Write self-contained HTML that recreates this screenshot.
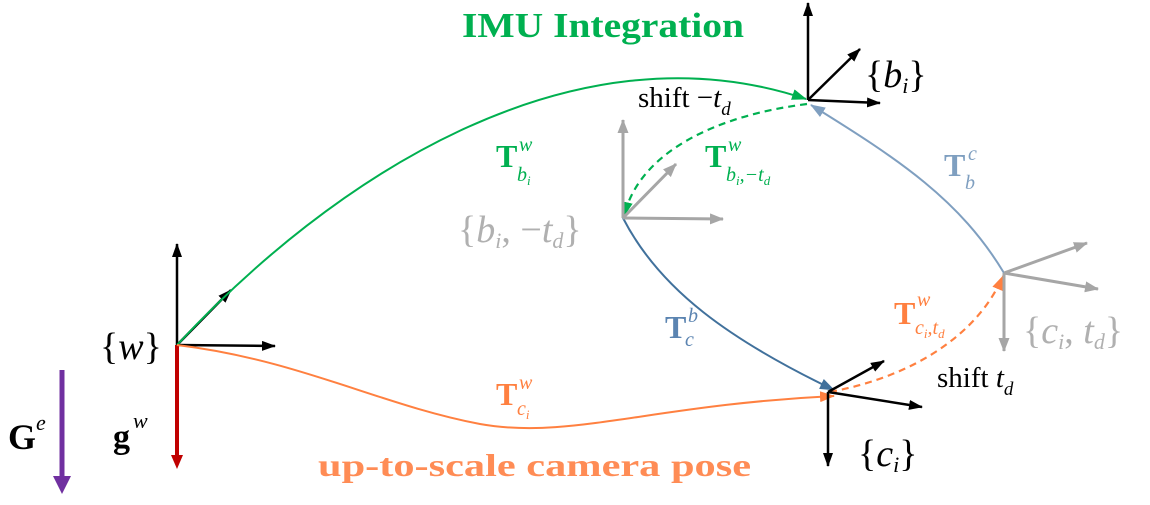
<!DOCTYPE html>
<html><head><meta charset="utf-8"><style>
html,body{margin:0;padding:0;background:#fff;width:1150px;height:505px;overflow:hidden}
svg{display:block}
text{font-family:"Liberation Serif",serif}
</style></head><body>
<svg width="1150" height="505" viewBox="0 0 1150 505" xmlns="http://www.w3.org/2000/svg">
<defs>
<marker id="ak" markerWidth="14" markerHeight="10" refX="13" refY="5" orient="auto" markerUnits="userSpaceOnUse"><path d="M0,0 L14,5 L0,10 z" fill="#000"/></marker>
<marker id="ag" markerWidth="14" markerHeight="11" refX="13" refY="5.5" orient="auto" markerUnits="userSpaceOnUse"><path d="M0,0 L14,5.5 L0,11 z" fill="#a6a6a6"/></marker>
<marker id="agr" markerWidth="15" markerHeight="11" refX="14" refY="5.5" orient="auto" markerUnits="userSpaceOnUse"><path d="M0,0 L15,5.5 L0,11 z" fill="#00b050"/></marker>
<marker id="aor" markerWidth="15" markerHeight="11" refX="14" refY="5.5" orient="auto" markerUnits="userSpaceOnUse"><path d="M0,0 L15,5.5 L0,11 z" fill="#ff8040"/></marker>
<marker id="abl" markerWidth="15" markerHeight="11" refX="14" refY="5.5" orient="auto" markerUnits="userSpaceOnUse"><path d="M0,0 L15,5.5 L0,11 z" fill="#41719c"/></marker>
<marker id="asb" markerWidth="15" markerHeight="11" refX="14" refY="5.5" orient="auto" markerUnits="userSpaceOnUse"><path d="M0,0 L15,5.5 L0,11 z" fill="#7f9fc0"/></marker>
</defs>

<!-- world frame -->
<line x1="177" y1="345" x2="177" y2="244" stroke="#000" stroke-width="2.5" marker-end="url(#ak)"/>
<line x1="177" y1="345" x2="275" y2="346" stroke="#000" stroke-width="2.5" marker-end="url(#ak)"/>
<line x1="177" y1="345" x2="231" y2="290" stroke="#000" stroke-width="2.5" marker-end="url(#ak)"/>
<line x1="177" y1="345" x2="177" y2="455" stroke="#c00000" stroke-width="4"/>
<path d="M171,455 L183,455 L177,469 z" fill="#c00000"/>
<!-- G^e -->
<line x1="62" y1="370" x2="62" y2="478" stroke="#7030a0" stroke-width="5"/>
<path d="M53,476 L71,476 L62,494 z" fill="#7030a0"/>

<!-- curves -->
<path d="M177,345 C330,180 570,20 806,99" fill="none" stroke="#00b050" stroke-width="2" marker-end="url(#agr)"/>
<path d="M807,104 C720,115 640,150 624,216" fill="none" stroke="#00b050" stroke-width="2.2" stroke-dasharray="7,5" marker-end="url(#agr)"/>
<path d="M1004,273 C960,200 900,160 811,105" fill="none" stroke="#7f9fc0" stroke-width="2" marker-end="url(#asb)"/>
<path d="M623,218 C660,290 730,340 834,390" fill="none" stroke="#41719c" stroke-width="2" marker-end="url(#abl)"/>
<path d="M177,345 C300,360 380,405 480,424 C570,440 650,405 834,396" fill="none" stroke="#ff8040" stroke-width="2" marker-end="url(#aor)"/>
<path d="M830,392 C920,375 980,330 1003,276" fill="none" stroke="#ff8040" stroke-width="2.2" stroke-dasharray="7,5" marker-end="url(#aor)"/>

<!-- b_i frame -->
<line x1="808" y1="100" x2="808" y2="3" stroke="#000" stroke-width="2.5" marker-end="url(#ak)"/>
<line x1="808" y1="100" x2="880" y2="103" stroke="#000" stroke-width="2.5" marker-end="url(#ak)"/>
<line x1="808" y1="100" x2="860" y2="49" stroke="#000" stroke-width="2.5" marker-end="url(#ak)"/>

<!-- gray b frame -->
<line x1="623" y1="218" x2="623" y2="120" stroke="#a6a6a6" stroke-width="3" marker-end="url(#ag)"/>
<line x1="623" y1="218" x2="723" y2="219" stroke="#a6a6a6" stroke-width="3" marker-end="url(#ag)"/>
<line x1="623" y1="218" x2="676" y2="164" stroke="#a6a6a6" stroke-width="3" marker-end="url(#ag)"/>

<!-- c_i frame -->
<line x1="828" y1="392" x2="828" y2="466" stroke="#000" stroke-width="2.5" marker-end="url(#ak)"/>
<line x1="828" y1="392" x2="922" y2="407" stroke="#000" stroke-width="2.5" marker-end="url(#ak)"/>
<line x1="828" y1="392" x2="884" y2="361" stroke="#000" stroke-width="2.5" marker-end="url(#ak)"/>

<!-- gray c frame -->
<line x1="1004" y1="273" x2="1004" y2="351" stroke="#a6a6a6" stroke-width="3" marker-end="url(#ag)"/>
<line x1="1004" y1="273" x2="1098" y2="289" stroke="#a6a6a6" stroke-width="3" marker-end="url(#ag)"/>
<line x1="1004" y1="273" x2="1087" y2="243" stroke="#a6a6a6" stroke-width="3" marker-end="url(#ag)"/>

<!-- titles -->
<text x="462" y="37" font-size="35" font-weight="bold" fill="#00b050" textLength="282" lengthAdjust="spacingAndGlyphs">IMU Integration</text>
<text x="318" y="476" font-size="32" font-weight="bold" fill="#ff8c55" textLength="433" lengthAdjust="spacingAndGlyphs">up-to-scale camera pose</text>

<!-- frame labels -->
<text x="865" y="87" font-size="38" fill="#000">{<tspan font-style="italic">b</tspan><tspan font-size="22" font-style="italic" dy="6">i</tspan><tspan dy="-6">}</tspan></text>
<text x="100" y="359" font-size="38" fill="#000">{<tspan font-style="italic">w</tspan>}</text>
<text x="858" y="466" font-size="38" fill="#000">{<tspan font-style="italic">c</tspan><tspan font-size="22" font-style="italic" dy="6">i</tspan><tspan dy="-6">}</tspan></text>
<text x="458" y="242" font-size="38" fill="#b0b0b0">{<tspan font-style="italic">b</tspan><tspan font-size="22" font-style="italic" dy="6">i</tspan><tspan dy="-6">, −</tspan><tspan font-style="italic">t</tspan><tspan font-size="22" font-style="italic" dy="6">d</tspan><tspan dy="-6">}</tspan></text>
<text x="1023" y="343" font-size="38" fill="#b0b0b0">{<tspan font-style="italic">c</tspan><tspan font-size="22" font-style="italic" dy="6">i</tspan><tspan dy="-6">, </tspan><tspan font-style="italic">t</tspan><tspan font-size="22" font-style="italic" dy="6">d</tspan><tspan dy="-6">}</tspan></text>

<text x="638" y="107" font-size="29" fill="#000">shift  −<tspan font-style="italic">t</tspan><tspan font-size="19" font-style="italic" dy="8">d</tspan></text>
<text x="937" y="387" font-size="29" fill="#000">shift <tspan font-style="italic">t</tspan><tspan font-size="19" font-style="italic" dy="8">d</tspan></text>

<!-- transform labels -->
<text x="496" y="167" font-size="32" font-weight="bold" fill="#00b050">T</text>
<text x="519" y="151" font-size="20" font-style="italic" fill="#00b050">w</text>
<text x="517" y="181" font-size="20" font-style="italic" fill="#00b050">b<tspan font-size="13" dy="4">i</tspan></text>

<text x="705" y="167" font-size="32" font-weight="bold" fill="#00b050">T</text>
<text x="728" y="151" font-size="20" font-style="italic" fill="#00b050">w</text>
<text x="726" y="181" font-size="20" font-style="italic" fill="#00b050">b<tspan font-size="13" dy="4">i</tspan><tspan dy="-4">,−t</tspan><tspan font-size="13" dy="4">d</tspan></text>

<text x="944" y="176" font-size="32" font-weight="bold" fill="#7f9fc0">T</text>
<text x="968" y="160" font-size="20" font-style="italic" fill="#7f9fc0">c</text>
<text x="965" y="189" font-size="20" font-style="italic" fill="#7f9fc0">b</text>

<text x="665" y="338" font-size="32" font-weight="bold" fill="#5b84b1">T</text>
<text x="688" y="322" font-size="20" font-style="italic" fill="#5b84b1">b</text>
<text x="685" y="346" font-size="20" font-style="italic" fill="#5b84b1">c</text>

<text x="496" y="405" font-size="32" font-weight="bold" fill="#ff8040">T</text>
<text x="519" y="389" font-size="20" font-style="italic" fill="#ff8040">w</text>
<text x="517" y="415" font-size="20" font-style="italic" fill="#ff8040">c<tspan font-size="13" dy="4">i</tspan></text>

<text x="894" y="324" font-size="32" font-weight="bold" fill="#ff8040">T</text>
<text x="917" y="306" font-size="20" font-style="italic" fill="#ff8040">w</text>
<text x="915" y="334" font-size="20" font-style="italic" fill="#ff8040">c<tspan font-size="13" dy="4">i</tspan><tspan dy="-4">,t</tspan><tspan font-size="13" dy="4">d</tspan></text>

<text x="8" y="449" font-size="36" font-weight="bold" fill="#000">G</text>
<text x="36" y="430" font-size="22" font-style="italic" fill="#000">e</text>
<text x="113" y="448" font-size="34" font-weight="bold" fill="#000">g</text>
<text x="133" y="428" font-size="22" font-style="italic" fill="#000">w</text>
</svg>
</body></html>
